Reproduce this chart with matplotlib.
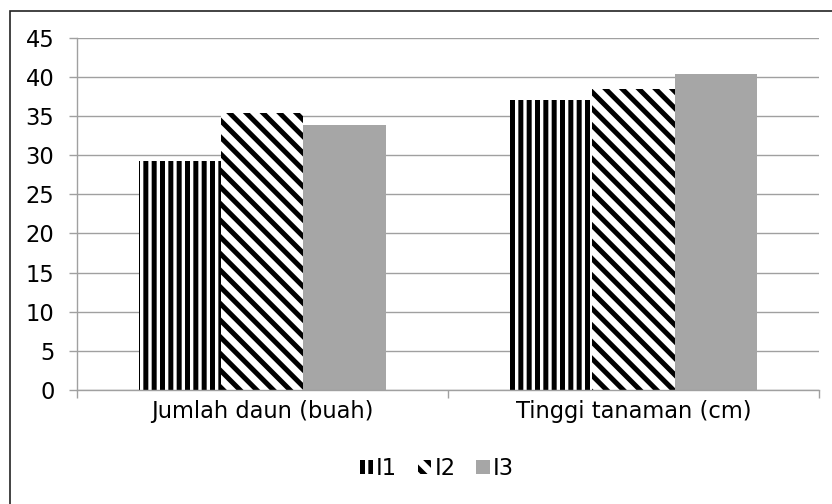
import matplotlib
matplotlib.use("Agg")
import matplotlib.pyplot as plt
import numpy as np
from matplotlib.patches import Rectangle

# data
categories = ["Jumlah daun (buah)", "Tinggi tanaman (cm)"]
series_names = ["I1", "I2", "I3"]
i1_values = [29.2, 37.1]
i2_values = [35.4, 38.4]
i3_values = [33.8, 40.3]
y_ticks = [0, 5, 10, 15, 20, 25, 30, 35, 40, 45]

plt.rcParams["font.family"] = ["DejaVu Sans"]
plt.rcParams["hatch.linewidth"] = 3.6

grid_grey = "#a0a0a0"
fs = 16.3

fig = plt.figure(figsize=(8.32, 5.04), dpi=100)
ax = fig.add_axes([0.0922, 0.2262, 0.8920, 0.6990])

x = np.arange(len(categories))
w = 0.222

ax.bar(x - w, i1_values, w, color="white", edgecolor="black", linewidth=0,
       hatch="||", label=series_names[0], zorder=2)
ax.bar(x, i2_values, w, color="white", edgecolor="black", linewidth=0,
       hatch="\\\\", label=series_names[1], zorder=2)
ax.bar(x + w, i3_values, w, color="#a6a6a6", edgecolor="#a6a6a6", linewidth=0,
       label=series_names[2], zorder=2)

ax.set_xlim(-0.5, len(categories) - 0.5)
ax.set_ylim(0, 45)
ax.set_yticks(y_ticks)
ax.set_yticklabels([str(v) for v in y_ticks], fontsize=fs)

ax.set_xticks(x)
ax.set_xticklabels(categories, fontsize=fs)
ax.set_xticks(np.arange(len(categories) + 1) - 0.5, minor=True)
ax.tick_params(axis="x", which="major", length=0, pad=7)
ax.tick_params(axis="x", which="minor", length=6, color=grid_grey, width=1)
ax.tick_params(axis="y", length=6, color=grid_grey, width=1, pad=10)

ax.yaxis.grid(True, color=grid_grey, linewidth=1)
ax.set_axisbelow(True)
for side in ["top", "right"]:
    ax.spines[side].set_visible(False)
for side in ["left", "bottom"]:
    ax.spines[side].set_color(grid_grey)
    ax.spines[side].set_linewidth(1)

ax.legend(loc="center", bbox_to_anchor=(0.485, -0.222), ncol=3, frameon=False,
          fontsize=fs, handlelength=0.6, handleheight=0.6, handletextpad=0.15,
          columnspacing=0.9)

# outer chart border (right and bottom edges fall outside the image)
fig.patches.append(Rectangle((10 / 832, -0.1), 1.2, 1 - 10.7 / 504 + 0.1,
                             transform=fig.transFigure, fill=False,
                             edgecolor="#222222", linewidth=1.2))

fig.savefig("out.png", dpi=100)
